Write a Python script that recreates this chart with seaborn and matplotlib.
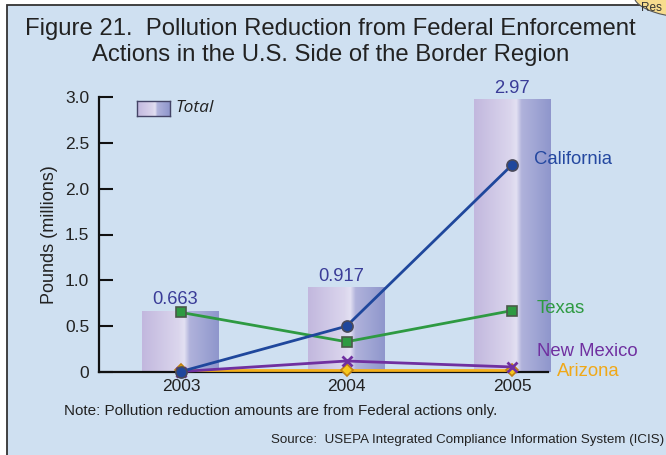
import numpy as np
import pandas as pd
import matplotlib
matplotlib.use("Agg")
import matplotlib.pyplot as plt
from matplotlib.colors import LinearSegmentedColormap
from matplotlib.patches import Rectangle, Ellipse
import seaborn as sns

# ---- data (pounds, millions) ----
years = ["2003", "2004", "2005"]
total = [0.663, 0.917, 2.97]
california = [0.005, 0.50, 2.26]
texas = [0.65, 0.33, 0.67]
new_mexico = [0.005, 0.12, 0.055]
arizona = [0.02, 0.02, 0.02]
y_ticks = [0, 0.5, 1.0, 1.5, 2.0, 2.5, 3.0]
y_tick_labels = ["0", "0.5", "1.0", "1.5", "2.0", "2.5", "3.0"]

BG = "#cfe0f1"
sns.set_theme(style="white")
plt.rcParams["font.family"] = ["Liberation Sans", "DejaVu Sans"]

W, H = 666, 455
fig = plt.figure(figsize=(W / 100, H / 100), dpi=100)
fig.patch.set_facecolor("white")

# panel background with frame
fig.patches.append(Rectangle((7 / W, -0.05), 1.1, 1 - 5 / H + 0.05,
                             transform=fig.transFigure, facecolor=BG,
                             edgecolor="#333333", linewidth=1.3, zorder=-3))
# corner badge
fig.patches.append(Ellipse((704 / W, 1 - (-4) / H), 140 / W, 46 / H,
                           transform=fig.transFigure, facecolor="#f7dc8e",
                           edgecolor="#555555", linewidth=0.8, zorder=-2))
fig.text(641 / W, 1 - 8 / H, "Res", fontsize=8.5, color="#333333",
         va="center", ha="left")

ax = fig.add_axes([99 / W, 1 - 372 / H, 449 / W, 275 / H])
ax.set_facecolor("none")

df_total = pd.DataFrame({"year": years, "total": total})
sns.barplot(data=df_total, x="year", y="total", ax=ax, width=0.465,
            color="#c8c0e0", saturation=1, zorder=1)

# horizontal gradient fill for the bars
grad_cmap = LinearSegmentedColormap.from_list(
    "bar_grad",
    [(0.0, (0.76, 0.72, 0.87)), (0.48, (0.86, 0.84, 0.93)),
     (0.55, (0.89, 0.88, 0.95)), (0.62, (0.69, 0.70, 0.86)),
     (1.0, (0.56, 0.59, 0.80))])
grad = np.linspace(0, 1, 256).reshape(1, -1)
for p in list(ax.patches):
    x0, y0 = p.get_x(), p.get_y()
    w, h = p.get_width(), p.get_height()
    im = ax.imshow(grad, cmap=grad_cmap, aspect="auto",
                   extent=[x0, x0 + w, y0, y0 + h], zorder=1, clip_on=False)
    im.set_clip_path(p)
    p.set_facecolor("none")
    p.set_edgecolor("none")

xpos = np.arange(len(years))
series = [
    ("Arizona", arizona, "#f3b01c", "D", "#f7c81e", "#c08010", 6),
    ("New Mexico", new_mexico, "#7030a0", "x", "#7030a0", "#7030a0", 7),
    ("Texas", texas, "#2e9a42", "s", "#2e9a42", "#4a5a4a", 7),
    ("California", california, "#1f479c", "o", "#1f479c", "#4a4a5a", 8),
]
for name, vals, col, mk, mfc, mec, ms in series:
    sns.lineplot(x=xpos, y=vals, ax=ax, color=col, linewidth=2.0,
                 marker=mk, markersize=ms, markerfacecolor=mfc,
                 markeredgecolor=mec, markeredgewidth=1.2 if mk != "x" else 2,
                 zorder=4, clip_on=False)

ax.set_xlim(-0.495, 2.217)
ax.set_ylim(0, 3.0)
ax.set_yticks(y_ticks)
ax.set_yticklabels(y_tick_labels)
ax.set_xlabel("")
ax.set_ylabel("Pounds (millions)", fontsize=13, color="#222222", labelpad=5)
ax.tick_params(axis="y", direction="in", length=10, width=1.5,
               color="#111111", labelsize=12.5, labelcolor="#222222", pad=7,
               left=True)
ax.tick_params(axis="x", length=0, labelsize=12.5, labelcolor="#222222", pad=5)
for s in ["top", "right"]:
    ax.spines[s].set_visible(False)
for s in ["left", "bottom"]:
    ax.spines[s].set_color("#111111")
    ax.spines[s].set_linewidth(1.6)
    ax.spines[s].set_zorder(3)

# total value labels above bars
label_dx = [-0.035, -0.035, 0.0]
for i, v in enumerate(total):
    ax.text(i + label_dx[i], v + 0.03, f"{v:g}", ha="center", va="bottom",
            fontsize=13.2, color="#3a3c98", clip_on=False)

# series names at the right end
ax.text(2.13, california[-1] + 0.06, "California", fontsize=13.3,
        color="#2448a0", va="center", ha="left")
ax.text(2.15, texas[-1] + 0.02, "Texas", fontsize=13.3, color="#2e9a42",
        va="center", ha="left")
ax.text(2.15, 0.22, "New Mexico", fontsize=13.3, color="#7030a0",
        va="center", ha="left")
ax.text(2.27, 0.0, "Arizona", fontsize=13.3, color="#f0a818",
        va="center", ha="left", clip_on=False)

# legend swatch
lax = fig.add_axes([137 / W, 1 - 116 / H, 33 / W, 15 / H])
lax.imshow(grad, cmap=grad_cmap, aspect="auto")
lax.set_xticks([])
lax.set_yticks([])
for s in lax.spines.values():
    s.set_color("#444466")
    s.set_linewidth(1.0)
fig.text(175 / W, 1 - 108.5 / H, "Total", fontsize=12.5, style="italic",
         family=["Open Sans", "DejaVu Sans"], color="#222222", va="center")

fig.text(330 / W, 1 - 29 / H, "Figure 21.  Pollution Reduction from Federal Enforcement",
         fontsize=17.2, color="#222222", ha="center", va="center")
fig.text(331 / W, 1 - 55 / H, "Actions in the U.S. Side of the Border Region",
         fontsize=17.2, color="#222222", ha="center", va="center")

fig.text(64 / W, 1 - 411 / H,
         "Note: Pollution reduction amounts are from Federal actions only.",
         fontsize=11, color="#222222", ha="left", va="center")
fig.text(664 / W, 1 - 440 / H,
         "Source:  USEPA Integrated Compliance Information System (ICIS)",
         fontsize=9.65, color="#222222", ha="right", va="center")

fig.savefig("out.png", dpi=100)
